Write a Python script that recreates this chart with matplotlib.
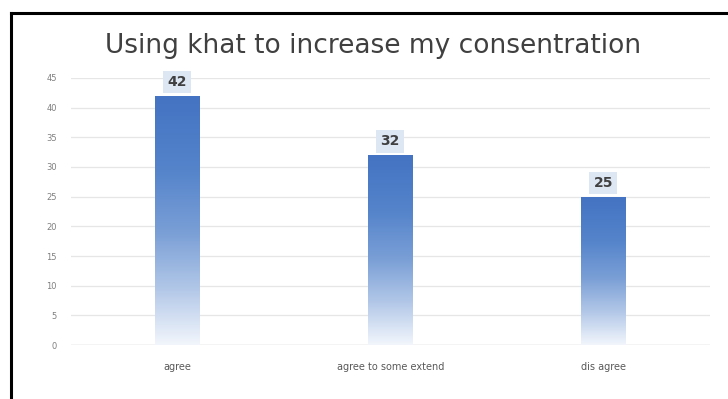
import numpy as np
import matplotlib
matplotlib.use("Agg")
import matplotlib.pyplot as plt
from matplotlib.colors import LinearSegmentedColormap

categories = ["agree", "agree to some extend", "dis agree"]
values = [42, 32, 25]
yticks = [0, 5, 10, 15, 20, 25, 30, 35, 40, 45]

fig = plt.figure(figsize=(7.28, 3.99), dpi=100)
ax = fig.add_axes([0.097, 0.135, 0.878, 0.67])

# outer frame (only top and left visible in the source)
fig.add_artist(plt.Line2D([0.015, 1.0], [0.968, 0.968], color="black", lw=2.2))
fig.add_artist(plt.Line2D([0.015, 0.015], [0.0, 0.968], color="black", lw=2.2))

x = np.arange(len(categories))
bars = ax.bar(x, values, width=0.21, color="none", edgecolor="none", zorder=2)

grad = LinearSegmentedColormap.from_list(
    "g", [(0, "#f2f6fc"), (0.22, "#b3c8e8"), (0.45, "#7a9fd6"), (0.7, "#5584cb"), (1, "#4373c2")])
img = np.linspace(0, 1, 256).reshape(-1, 1)
for b in bars:
    x0, w, h = b.get_x(), b.get_width(), b.get_height()
    im = ax.imshow(img, cmap=grad, origin="lower", aspect="auto",
                   extent=[x0, x0 + w, 0, h], zorder=2)
    im.set_clip_path(b)

for xi, v in zip(x, values):
    ax.text(xi, v + 1.1, str(v), ha="center", va="bottom", fontsize=10,
            fontweight="bold", color="#404040", zorder=3,
            bbox=dict(boxstyle="square,pad=0.3", fc="#dde7f4", ec="none"))

ax.set_xlim(-0.5, 2.5)
ax.set_ylim(0, 45)
ax.set_yticks(yticks)
ax.set_yticklabels([str(t) for t in yticks], fontsize=6, color="#7f7f7f")
ax.set_xticks(x)
ax.set_xticklabels(categories, fontsize=7, color="#595959")
ax.tick_params(axis="both", length=0, pad=10)
ax.tick_params(axis="x", pad=12)
ax.grid(axis="y", color="#e6e6e6", lw=0.9, zorder=0)
ax.set_axisbelow(True)
for s in ax.spines.values():
    s.set_visible(False)
ax.axhline(0, color="#d9d9d9", lw=1.0, zorder=1)

fig.text(0.512, 0.885, "Using khat to increase my consentration", ha="center",
         va="center", fontsize=19, color="#404040")

fig.savefig("out.png", dpi=100)
